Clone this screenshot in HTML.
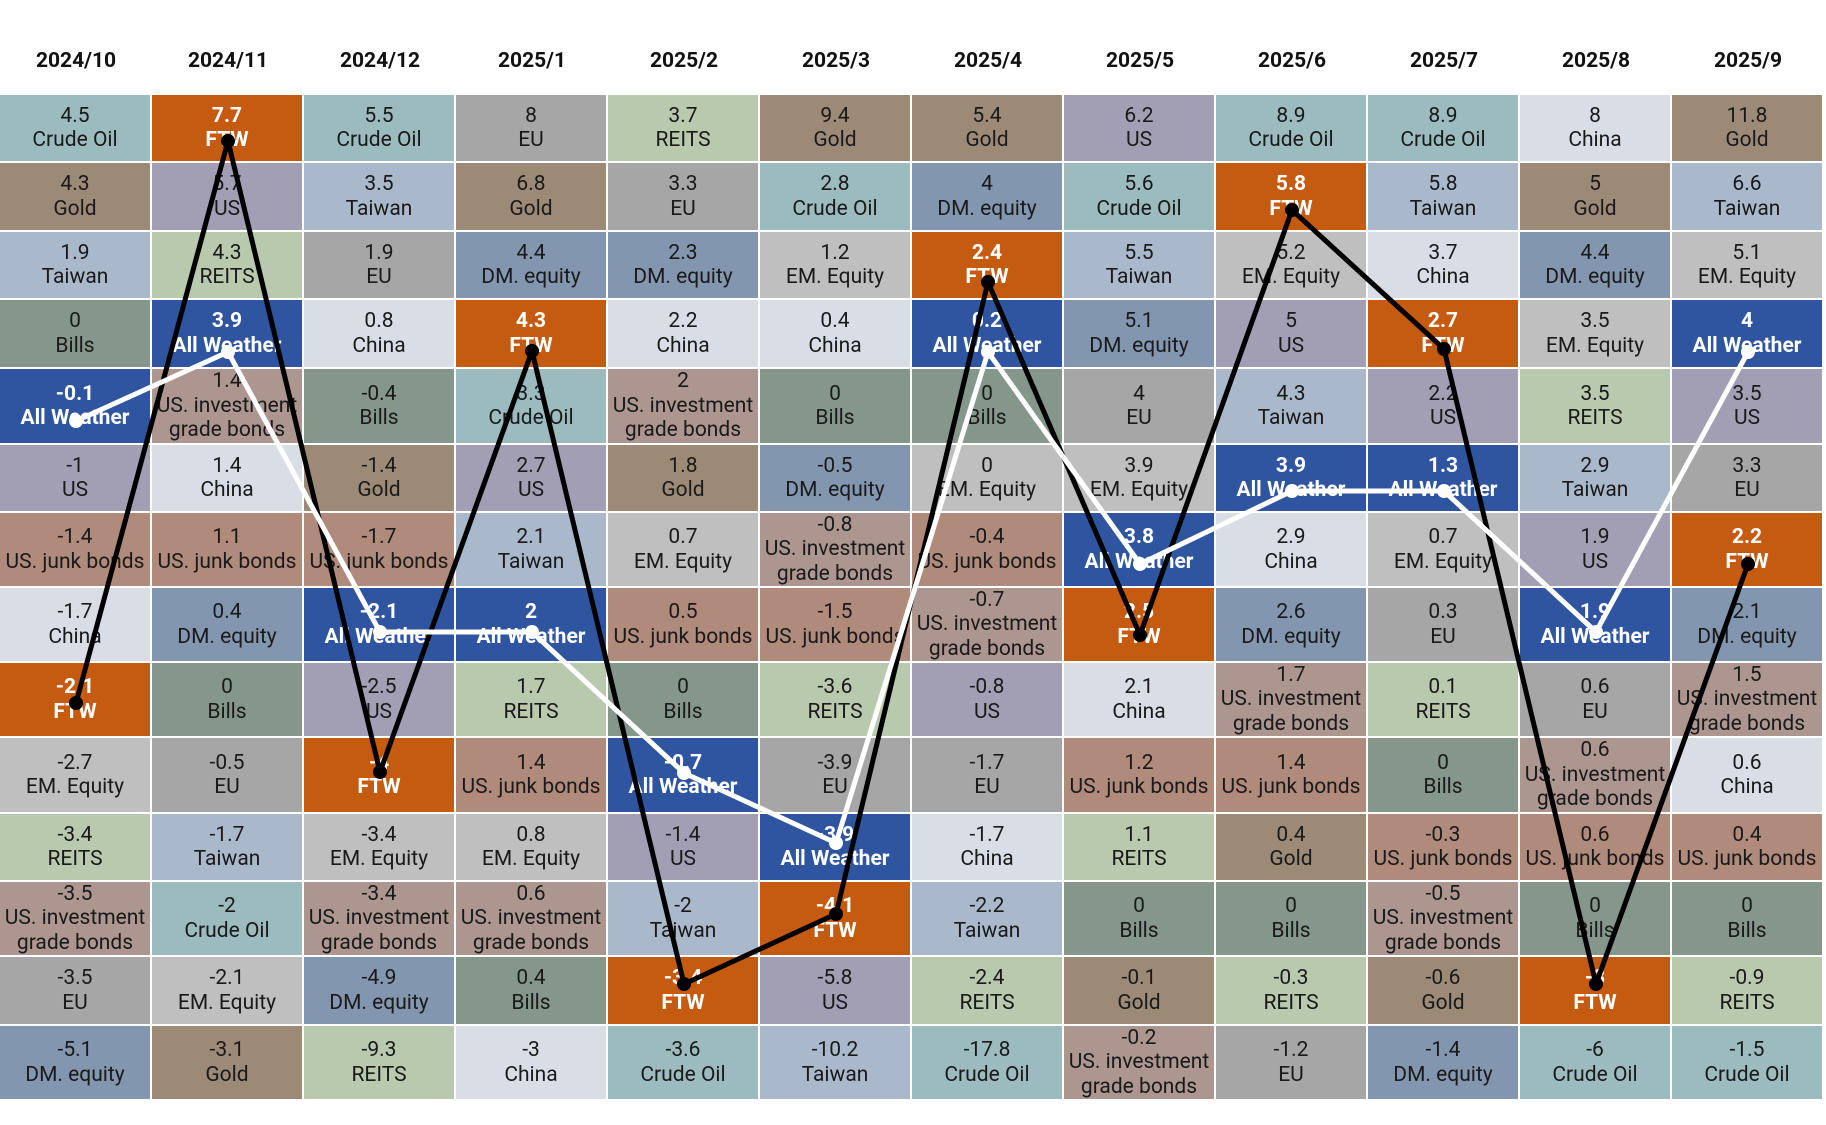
<!DOCTYPE html>
<html><head><meta charset="utf-8"><style>
body{margin:0;background:#fff;width:1826px;height:1125px;position:relative;overflow:hidden;font-family:"Roboto","Liberation Sans",sans-serif}
.hd{position:absolute;top:49px;width:152px;text-align:center;font-weight:bold;font-size:21px;color:#111}
.g{position:absolute;left:0;top:95px;display:grid;grid-template-columns:repeat(12,150px);grid-template-rows:66px 67px 66px 67px 74px 66px 73px 73px 73px 74px 66px 73px 67px 73px;gap:2px;grid-auto-flow:column}
.g div{display:flex;flex-direction:column;justify-content:center;align-items:center;text-align:center;font-size:21px;line-height:24.5px;color:#1a1a1a}
.co{background:#9bbbbf}.go{background:#9c8a77}.tw{background:#aab8cb}.us{background:#a29fb5}.re{background:#b8c9ae}.eu{background:#a6a6a6}.cn{background:#d9dde6}.dm{background:#8396b0}.em{background:#bfbfbf}.bi{background:#84978a}.jb{background:#b08a7a}.ig{background:#ad968f}
.g .ftw{background:#c55a11;color:#fff;font-weight:bold}.g .aw{background:#2f55a0;color:#fff;font-weight:bold}
svg{position:absolute;left:0;top:0}
</style></head><body>
<div class="hd" style="left:0">2024/10</div><div class="hd" style="left:152px">2024/11</div><div class="hd" style="left:304px">2024/12</div><div class="hd" style="left:456px">2025/1</div><div class="hd" style="left:608px">2025/2</div><div class="hd" style="left:760px">2025/3</div><div class="hd" style="left:912px">2025/4</div><div class="hd" style="left:1064px">2025/5</div><div class="hd" style="left:1216px">2025/6</div><div class="hd" style="left:1368px">2025/7</div><div class="hd" style="left:1520px">2025/8</div><div class="hd" style="left:1672px">2025/9</div>
<div class="g">
<div class="co">4.5<br>Crude Oil</div><div class="go">4.3<br>Gold</div><div class="tw">1.9<br>Taiwan</div><div class="bi">0<br>Bills</div><div class="aw">-0.1<br>All Weather</div><div class="us">-1<br>US</div><div class="jb">-1.4<br>US. junk bonds</div><div class="cn">-1.7<br>China</div><div class="ftw">-2.1<br>FTW</div><div class="em">-2.7<br>EM. Equity</div><div class="re">-3.4<br>REITS</div><div class="ig">-3.5<br>US. investment<br>grade bonds</div><div class="eu">-3.5<br>EU</div><div class="dm">-5.1<br>DM. equity</div>
<div class="ftw">7.7<br>FTW</div><div class="us">5.7<br>US</div><div class="re">4.3<br>REITS</div><div class="aw">3.9<br>All Weather</div><div class="ig">1.4<br>US. investment<br>grade bonds</div><div class="cn">1.4<br>China</div><div class="jb">1.1<br>US. junk bonds</div><div class="dm">0.4<br>DM. equity</div><div class="bi">0<br>Bills</div><div class="eu">-0.5<br>EU</div><div class="tw">-1.7<br>Taiwan</div><div class="co">-2<br>Crude Oil</div><div class="em">-2.1<br>EM. Equity</div><div class="go">-3.1<br>Gold</div>
<div class="co">5.5<br>Crude Oil</div><div class="tw">3.5<br>Taiwan</div><div class="eu">1.9<br>EU</div><div class="cn">0.8<br>China</div><div class="bi">-0.4<br>Bills</div><div class="go">-1.4<br>Gold</div><div class="jb">-1.7<br>US. junk bonds</div><div class="aw">-2.1<br>All Weather</div><div class="us">-2.5<br>US</div><div class="ftw">-4<br>FTW</div><div class="em">-3.4<br>EM. Equity</div><div class="ig">-3.4<br>US. investment<br>grade bonds</div><div class="dm">-4.9<br>DM. equity</div><div class="re">-9.3<br>REITS</div>
<div class="eu">8<br>EU</div><div class="go">6.8<br>Gold</div><div class="dm">4.4<br>DM. equity</div><div class="ftw">4.3<br>FTW</div><div class="co">3.3<br>Crude Oil</div><div class="us">2.7<br>US</div><div class="tw">2.1<br>Taiwan</div><div class="aw">2<br>All Weather</div><div class="re">1.7<br>REITS</div><div class="jb">1.4<br>US. junk bonds</div><div class="em">0.8<br>EM. Equity</div><div class="ig">0.6<br>US. investment<br>grade bonds</div><div class="bi">0.4<br>Bills</div><div class="cn">-3<br>China</div>
<div class="re">3.7<br>REITS</div><div class="eu">3.3<br>EU</div><div class="dm">2.3<br>DM. equity</div><div class="cn">2.2<br>China</div><div class="ig">2<br>US. investment<br>grade bonds</div><div class="go">1.8<br>Gold</div><div class="em">0.7<br>EM. Equity</div><div class="jb">0.5<br>US. junk bonds</div><div class="bi">0<br>Bills</div><div class="aw">-0.7<br>All Weather</div><div class="us">-1.4<br>US</div><div class="tw">-2<br>Taiwan</div><div class="ftw">-3.4<br>FTW</div><div class="co">-3.6<br>Crude Oil</div>
<div class="go">9.4<br>Gold</div><div class="co">2.8<br>Crude Oil</div><div class="em">1.2<br>EM. Equity</div><div class="cn">0.4<br>China</div><div class="bi">0<br>Bills</div><div class="dm">-0.5<br>DM. equity</div><div class="ig">-0.8<br>US. investment<br>grade bonds</div><div class="jb">-1.5<br>US. junk bonds</div><div class="re">-3.6<br>REITS</div><div class="eu">-3.9<br>EU</div><div class="aw">-3.9<br>All Weather</div><div class="ftw">-4.1<br>FTW</div><div class="us">-5.8<br>US</div><div class="tw">-10.2<br>Taiwan</div>
<div class="go">5.4<br>Gold</div><div class="dm">4<br>DM. equity</div><div class="ftw">2.4<br>FTW</div><div class="aw">0.2<br>All Weather</div><div class="bi">0<br>Bills</div><div class="em">0<br>EM. Equity</div><div class="jb">-0.4<br>US. junk bonds</div><div class="ig">-0.7<br>US. investment<br>grade bonds</div><div class="us">-0.8<br>US</div><div class="eu">-1.7<br>EU</div><div class="cn">-1.7<br>China</div><div class="tw">-2.2<br>Taiwan</div><div class="re">-2.4<br>REITS</div><div class="co">-17.8<br>Crude Oil</div>
<div class="us">6.2<br>US</div><div class="co">5.6<br>Crude Oil</div><div class="tw">5.5<br>Taiwan</div><div class="dm">5.1<br>DM. equity</div><div class="eu">4<br>EU</div><div class="em">3.9<br>EM. Equity</div><div class="aw">3.8<br>All Weather</div><div class="ftw">2.5<br>FTW</div><div class="cn">2.1<br>China</div><div class="jb">1.2<br>US. junk bonds</div><div class="re">1.1<br>REITS</div><div class="bi">0<br>Bills</div><div class="go">-0.1<br>Gold</div><div class="ig">-0.2<br>US. investment<br>grade bonds</div>
<div class="co">8.9<br>Crude Oil</div><div class="ftw">5.8<br>FTW</div><div class="em">5.2<br>EM. Equity</div><div class="us">5<br>US</div><div class="tw">4.3<br>Taiwan</div><div class="aw">3.9<br>All Weather</div><div class="cn">2.9<br>China</div><div class="dm">2.6<br>DM. equity</div><div class="ig">1.7<br>US. investment<br>grade bonds</div><div class="jb">1.4<br>US. junk bonds</div><div class="go">0.4<br>Gold</div><div class="bi">0<br>Bills</div><div class="re">-0.3<br>REITS</div><div class="eu">-1.2<br>EU</div>
<div class="co">8.9<br>Crude Oil</div><div class="tw">5.8<br>Taiwan</div><div class="cn">3.7<br>China</div><div class="ftw">2.7<br>FTW</div><div class="us">2.2<br>US</div><div class="aw">1.3<br>All Weather</div><div class="em">0.7<br>EM. Equity</div><div class="eu">0.3<br>EU</div><div class="re">0.1<br>REITS</div><div class="bi">0<br>Bills</div><div class="jb">-0.3<br>US. junk bonds</div><div class="ig">-0.5<br>US. investment<br>grade bonds</div><div class="go">-0.6<br>Gold</div><div class="dm">-1.4<br>DM. equity</div>
<div class="cn">8<br>China</div><div class="go">5<br>Gold</div><div class="dm">4.4<br>DM. equity</div><div class="em">3.5<br>EM. Equity</div><div class="re">3.5<br>REITS</div><div class="tw">2.9<br>Taiwan</div><div class="us">1.9<br>US</div><div class="aw">1.9<br>All Weather</div><div class="eu">0.6<br>EU</div><div class="ig">0.6<br>US. investment<br>grade bonds</div><div class="jb">0.6<br>US. junk bonds</div><div class="bi">0<br>Bills</div><div class="ftw">-3<br>FTW</div><div class="co">-6<br>Crude Oil</div>
<div class="go">11.8<br>Gold</div><div class="tw">6.6<br>Taiwan</div><div class="em">5.1<br>EM. Equity</div><div class="aw">4<br>All Weather</div><div class="us">3.5<br>US</div><div class="eu">3.3<br>EU</div><div class="ftw">2.2<br>FTW</div><div class="dm">2.1<br>DM. equity</div><div class="ig">1.5<br>US. investment<br>grade bonds</div><div class="cn">0.6<br>China</div><div class="jb">0.4<br>US. junk bonds</div><div class="bi">0<br>Bills</div><div class="re">-0.9<br>REITS</div><div class="co">-1.5<br>Crude Oil</div>
</div>
<svg width="1826" height="1125">
<polyline fill="none" stroke="#000" stroke-width="5" stroke-linejoin="round" points="76,703 228,141 380,772 532,351 684,984 836,914 988,282 1140,635 1292,210 1444,349 1596,984 1748,564"/>
<g fill="#000"><circle cx="76" cy="703" r="7"/><circle cx="228" cy="141" r="7"/><circle cx="380" cy="772" r="7"/><circle cx="532" cy="351" r="7"/><circle cx="684" cy="984" r="7"/><circle cx="836" cy="914" r="7"/><circle cx="988" cy="282" r="7"/><circle cx="1140" cy="635" r="7"/><circle cx="1292" cy="210" r="7"/><circle cx="1444" cy="349" r="7"/><circle cx="1596" cy="984" r="7"/><circle cx="1748" cy="564" r="7"/></g>
<polyline fill="none" stroke="#fff" stroke-width="5" stroke-linejoin="round" points="76,421 228,352 380,632 532,632 684,773 836,843 988,352 1140,564 1292,491 1444,491 1596,632 1748,352"/>
<g fill="#fff"><circle cx="76" cy="421" r="7"/><circle cx="228" cy="352" r="7"/><circle cx="380" cy="632" r="7"/><circle cx="532" cy="632" r="7"/><circle cx="684" cy="773" r="7"/><circle cx="836" cy="843" r="7"/><circle cx="988" cy="352" r="7"/><circle cx="1140" cy="564" r="7"/><circle cx="1292" cy="491" r="7"/><circle cx="1444" cy="491" r="7"/><circle cx="1596" cy="632" r="7"/><circle cx="1748" cy="352" r="7"/></g>
</svg>
</body></html>
